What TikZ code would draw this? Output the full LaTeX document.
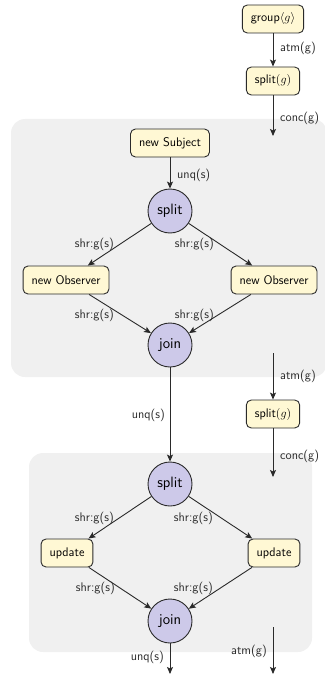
\documentclass[tikz,border=0pt]{standalone}
\usetikzlibrary{arrows.meta}
\definecolor{boxfill}{HTML}{FFF8D4}
\definecolor{circfill}{HTML}{CDC9E9}
\definecolor{panelgray}{HTML}{F0F0F0}
\definecolor{edgecol}{HTML}{2A2A2A}
\tikzset{
  panel/.style={fill=panelgray, rounded corners=14pt},
  stmt/.style={draw=edgecol, line width=0.9pt, fill=boxfill, rounded corners=5pt,
    minimum height=28pt, inner xsep=8.5pt, font=\sffamily\fontsize{12.5}{15}\selectfont},
  opnode/.style={circle, draw=edgecol, line width=0.9pt, fill=circfill, minimum size=44pt,
    inner sep=0pt, font=\sffamily\fontsize{15}{18}\selectfont},
  arr/.style={draw=edgecol, line width=0.9pt, -{Stealth[length=7pt,width=6pt,inset=1.5pt]}},
  lab/.style={inner sep=0pt, font=\sffamily\fontsize{12.5}{15}\selectfont, text=edgecol},
}
\begin{document}
\begin{tikzpicture}[x=1pt,y=-1pt]
\useasboundingbox (0,0) rectangle (324,674);
% panels
\fill[panel] (11,119) rectangle (327,377);
\fill[panel] (29,453) rectangle (312,652);
% right column
\node[stmt] (grp) at (273,19) {group$\langle g\rangle$};
\node[stmt] (sg1) at (273,81) {split$(g)$};
\coordinate (c1) at (273,136);
\coordinate (c2a) at (273,353);
\node[stmt] (sg2) at (273,414) {split$(g)$};
\coordinate (c2b) at (273,477);
\coordinate (c3a) at (273,627);
\coordinate (c3b) at (273,674);
% first panel
\node[stmt] (subj) at (170,143) {new Subject};
\node[opnode] (split1) at (170,211) {split};
\node[stmt] (obsL) at (66,280) {new Observer};
\node[stmt] (obsR) at (274,280) {new Observer};
\node[opnode] (join1) at (170,345) {join};
% second panel
\node[opnode] (split2) at (170,484) {split};
\node[stmt] (updL) at (67,553) {update};
\node[stmt] (updR) at (274,553) {update};
\node[opnode] (join2) at (170,621) {join};
\coordinate (out1) at (170,674);
% connectors
\draw[arr] (grp) -- (sg1);
\draw[arr] (sg1) -- (c1);
\draw[arr] (c2a) -- (sg2);
\draw[arr] (sg2) -- (c2b);
\draw[arr] (c3a) -- (c3b);
\draw[arr] (subj) -- (split1);
\draw[arr] (split1) -- (obsL);
\draw[arr] (split1) -- (obsR);
\draw[arr] (obsL) -- (join1);
\draw[arr] (obsR) -- (join1);
\draw[arr] (join1) -- (split2);
\draw[arr] (split2) -- (updL);
\draw[arr] (split2) -- (updR);
\draw[arr] (updL) -- (join2);
\draw[arr] (updR) -- (join2);
\draw[arr] (join2) -- (out1);
% labels
\node[lab, anchor=west] (l1) at (280,48) {atm(g)};
\node[lab, anchor=west] (l2) at (280,118) {conc(g)};
\node[lab, anchor=west] (l3) at (177,175) {unq(s)};
\node[lab, anchor=east] (l4) at (114,244) {shr:g(s)};
\node[lab, anchor=east] (l5) at (214,244) {shr:g(s)};
\node[lab, anchor=east] (l6) at (114,315) {shr:g(s)};
\node[lab, anchor=east] (l7) at (214,315) {shr:g(s)};
\node[lab, anchor=west] (l8) at (280,376) {atm(g)};
\node[lab, anchor=east] (l9) at (165,415) {unq(s)};
\node[lab, anchor=west] (l10) at (280,456) {conc(g)};
\node[lab, anchor=east] (l11) at (114,518) {shr:g(s)};
\node[lab, anchor=east] (l12) at (213,518) {shr:g(s)};
\node[lab, anchor=east] (l13) at (115,588) {shr:g(s)};
\node[lab, anchor=east] (l14) at (213,588) {shr:g(s)};
\node[lab, anchor=east] (l15) at (164,657) {unq(s)};
\node[lab, anchor=east] (l16) at (267,651) {atm(g)};
\end{tikzpicture}
\end{document}
